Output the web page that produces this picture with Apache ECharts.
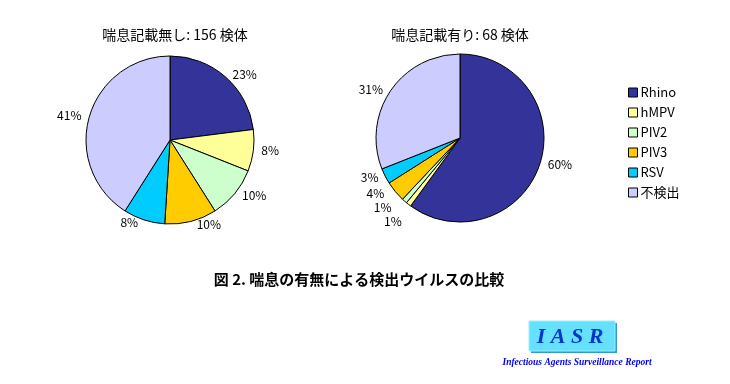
<!DOCTYPE html>
<html><head><meta charset="utf-8">
<script src="https://cdn.jsdelivr.net/npm/echarts@6/dist/echarts.min.js"></script>
<style>html,body{margin:0;padding:0;background:#fff}#c{width:730px;height:384px}</style>
</head><body><div id="c"></div>
<script>
const categories = ['Rhino', 'hMPV', 'PIV2', 'PIV3', 'RSV', '不検出'];
const colors = ['#333399', '#FFFF99', '#CCFFCC', '#FFCC00', '#00CCFF', '#CCCCFF'];
const noAsthma = [23, 8, 10, 10, 8, 41];   // 喘息記載無し (%)
const withAsthma = [60, 1, 1, 4, 3, 31];   // 喘息記載有り (%)
const titles = ['喘息記載無し: 156 検体', '喘息記載有り: 68 検体'];
const caption = '図 2. 喘息の有無による検出ウイルスの比較';

const font = '"Noto Sans CJK JP", "Noto Sans", sans-serif';
function pie(vals, cx, cy) {
  return {
    type: 'pie', center: [cx, cy], radius: 84, startAngle: 90, clockwise: true,
    avoidLabelOverlap: true, animation: false,
    itemStyle: { borderColor: '#000', borderWidth: 1 },
    label: { show: true, position: 'outside', formatter: '{c}%', color: '#000', fontSize: 12, fontFamily: font },
    labelLine: { show: false, length: 3, length2: 0 },
    emphasis: { disabled: true },
    data: categories.map((n, i) => ({ name: n, value: vals[i], itemStyle: { color: colors[i] } }))
  };
}
const chart = echarts.init(document.getElementById('c'));
chart.setOption({
  backgroundColor: '#fff',
  title: [
    { text: titles[0], left: 170, top: 23, textAlign: 'center', textStyle: { fontSize: 14, fontWeight: 'normal', color: '#000', fontFamily: font } },
    { text: titles[1], left: 455, top: 23, textAlign: 'center', textStyle: { fontSize: 14, fontWeight: 'normal', color: '#000', fontFamily: font } },
    { text: caption, left: 354, top: 267, textAlign: 'center', textStyle: { fontSize: 15, fontWeight: 'bold', color: '#000', fontFamily: font } }
  ],
  legend: {
    orient: 'vertical', left: 623, top: 81, itemWidth: 9, itemHeight: 9, itemGap: 7,
    icon: 'rect', selectedMode: false,
    itemStyle: { borderColor: '#000', borderWidth: 1 },
    textStyle: { fontSize: 13, lineHeight: 12, color: '#000', fontFamily: font, padding: [0, 0, 0, -2] },
    data: categories
  },
  series: [pie(noAsthma, 170, 140), pie(withAsthma, 460, 138)],
  graphic: [
    { type: 'rect', shape: { x: 531, y: 323, width: 86, height: 30 }, style: { fill: '#3399cc' } },
    { type: 'rect', shape: { x: 529, y: 321, width: 86, height: 30 }, style: { fill: '#66e0ff', stroke: '#99eeff', lineWidth: 1 } },
    { type: 'text', style: { x: 570, y: 337, text: 'I A S R', align: 'center', verticalAlign: 'middle', fill: '#0033cc', font: 'italic bold 22px "Liberation Serif", serif' } },
    { type: 'text', style: { x: 577, y: 363, text: 'Infectious Agents Surveillance Report', align: 'center', verticalAlign: 'middle', fill: '#0000ee', font: 'italic bold 9.5px "Liberation Serif", serif' } }
  ]
});
</script></body></html>
